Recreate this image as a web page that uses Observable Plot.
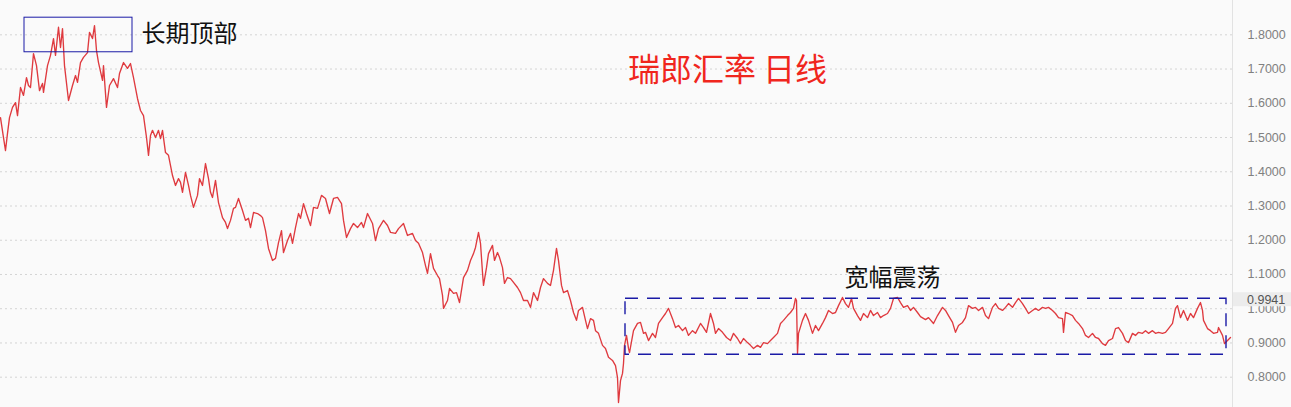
<!DOCTYPE html>
<html>
<head>
<meta charset="utf-8">
<script src="https://cdn.jsdelivr.net/npm/d3@7"></script>
<script src="https://cdn.jsdelivr.net/npm/@observablehq/plot@0.6"></script>
<style>
  html, body { margin: 0; padding: 0; background: #fafafa; }
  #chart svg { display: block; }
</style>
</head>
<body>
<div id="chart"></div>
<script>
// USD/CHF daily close, time index t (trading-time units) and price
const series = [
  [0,1.558],[3,1.500],[5,1.462],[7,1.512],[9,1.558],[12,1.588],[15,1.602],[17,1.564],
  [20,1.646],[23,1.623],[26,1.675],[28,1.652],[30,1.646],[33,1.745],[36,1.710],[39,1.637],
  [42,1.658],[43,1.632],[47,1.710],[50,1.740],[53,1.789],[55,1.740],[58,1.822],[60,1.763],
  [62,1.818],[64,1.710],[68,1.608],[72,1.652],[75,1.681],[77,1.661],[80,1.719],[83,1.734],
  [87,1.748],[89,1.807],[92,1.789],[94,1.827],[96,1.754],[98,1.719],[102,1.667],[103,1.710],
  [106,1.588],[109,1.652],[113,1.672],[117,1.646],[119,1.687],[123,1.719],[127,1.702],[130,1.716],
  [133,1.675],[137,1.614],[140,1.579],[143,1.564],[146,1.500],[148,1.448],[150,1.506],[152,1.521],
  [155,1.500],[158,1.521],[160,1.497],[162,1.521],[165,1.456],[168,1.448],[172,1.389],[175,1.360],
  [178,1.380],[180,1.369],[182,1.340],[185,1.398],[188,1.360],[190,1.331],[193,1.296],[197,1.331],
  [199,1.380],[202,1.360],[205,1.424],[208,1.380],[210,1.340],[212,1.325],[215,1.375],[218,1.310],
  [222,1.266],[225,1.252],[227,1.234],[230,1.258],[233,1.293],[235,1.296],[238,1.322],[242,1.287],
  [245,1.258],[248,1.264],[250,1.237],[253,1.281],[257,1.278],[260,1.272],[262,1.266],[265,1.228],
  [268,1.176],[272,1.141],[275,1.147],[278,1.193],[281,1.228],[283,1.164],[287,1.199],[290,1.220],
  [292,1.191],[295,1.237],[298,1.278],[300,1.264],[303,1.307],[306,1.278],[310,1.243],[313,1.296],
  [317,1.293],[321,1.331],[325,1.322],[329,1.278],[333,1.322],[337,1.325],[341,1.307],[343,1.258],
  [346,1.208],[350,1.234],[353,1.249],[357,1.237],[361,1.252],[363,1.237],[367,1.278],[372,1.249],
  [375,1.199],[378,1.234],[383,1.258],[387,1.243],[390,1.223],[395,1.220],[398,1.234],[403,1.249],
  [407,1.214],[412,1.220],[415,1.199],[418,1.191],[422,1.164],[425,1.126],[427,1.103],[430,1.161],
  [433,1.118],[437,1.097],[439,1.088],[442,1.039],[443,1.001],[447,1.024],[449,1.059],[453,1.045],
  [456,1.047],[459,1.018],[463,1.091],[467,1.112],[470,1.141],[473,1.161],[475,1.179],[478,1.223],
  [480,1.191],[482,1.106],[483,1.068],[486,1.120],[488,1.161],[492,1.185],[494,1.141],[497,1.164],
  [499,1.150],[502,1.120],[504,1.074],[507,1.091],[510,1.088],[513,1.077],[517,1.062],[520,1.047],
  [523,1.024],[527,1.024],[530,1.004],[533,1.047],[537,1.024],[540,1.062],[543,1.088],[547,1.074],
  [550,1.068],[553,1.112],[556,1.176],[558,1.141],[561,1.068],[563,1.047],[567,1.053],[570,1.024],
  [573,0.989],[576,0.966],[578,0.995],[582,1.004],[585,0.966],[587,0.942],[590,0.971],[593,0.966],
  [595,0.936],[598,0.928],[602,0.893],[605,0.884],[608,0.858],[612,0.849],[615,0.834],[617,0.799],
  [618,0.726],[620,0.790],[622,0.811],[623,0.840],[624,0.893],[626,0.922],[628,0.884],[629,0.872],
  [633,0.936],[637,0.957],[640,0.960],[643,0.928],[645,0.931],[648,0.907],[652,0.928],[655,0.916],
  [658,0.957],[662,0.974],[665,0.986],[668,1.001],[672,0.971],[675,0.945],[678,0.951],[682,0.936],
  [685,0.945],[688,0.922],[692,0.936],[695,0.928],[700,0.957],[703,0.945],[706,0.931],[710,0.986],
  [713,0.957],[715,0.928],[718,0.942],[722,0.931],[726,0.916],[730,0.907],[733,0.928],[737,0.913],
  [740,0.898],[743,0.913],[747,0.901],[750,0.893],[753,0.884],[757,0.893],[760,0.887],[763,0.901],
  [767,0.898],[770,0.907],[773,0.916],[777,0.928],[780,0.957],[783,0.966],[787,0.980],[790,0.989],
  [793,1.001],[795,1.030],[796,1.024],[797,0.869],[798,0.928],[802,0.966],[805,0.986],[808,0.966],
  [812,0.928],[815,0.951],[818,0.936],[822,0.957],[825,0.974],[828,0.995],[832,0.986],[835,0.989],
  [838,1.009],[842,1.033],[845,1.015],[848,1.004],[851,1.030],[853,1.001],[857,0.980],[860,0.966],
  [863,0.986],[867,0.974],[870,0.995],[873,0.980],[877,0.989],[880,0.974],[883,0.980],[887,0.986],
  [890,1.001],[893,1.030],[897,1.033],[900,1.018],[903,1.004],[907,1.009],[910,0.995],[913,1.004],
  [917,0.989],[920,0.977],[925,0.968],[928,0.974],[933,0.957],[937,0.980],[942,1.004],[945,0.995],
  [948,0.980],[952,0.960],[955,0.931],[958,0.951],[962,0.960],[965,0.974],[968,1.009],[972,1.001],
  [975,1.004],[978,0.995],[982,1.004],[985,0.980],[988,0.971],[992,1.004],[995,1.015],[998,1.001],
  [1002,0.995],[1005,1.004],[1008,1.015],[1012,1.004],[1015,1.018],[1018,1.030],[1022,1.015],[1025,1.001],
  [1028,0.986],[1032,0.995],[1035,1.001],[1038,0.995],[1042,1.004],[1045,1.001],[1048,1.004],[1052,0.995],
  [1055,0.986],[1058,0.974],[1062,0.971],[1063,0.931],[1065,0.989],[1068,0.986],[1072,0.980],[1075,0.966],
  [1078,0.957],[1082,0.942],[1085,0.922],[1088,0.916],[1092,0.928],[1095,0.916],[1098,0.913],[1102,0.898],
  [1105,0.893],[1108,0.907],[1112,0.913],[1115,0.942],[1118,0.945],[1122,0.928],[1125,0.907],[1128,0.901],
  [1132,0.928],[1135,0.922],[1138,0.931],[1142,0.928],[1145,0.936],[1148,0.928],[1152,0.936],[1155,0.928],
  [1158,0.931],[1162,0.928],[1165,0.931],[1168,0.942],[1172,0.957],[1175,1.001],[1177,1.009],[1180,0.974],
  [1183,0.995],[1187,0.966],[1190,0.986],[1193,0.974],[1197,1.001],[1200,1.018],[1202,0.995],[1203,0.966],
  [1207,0.942],[1210,0.936],[1213,0.928],[1217,0.931],[1218,0.945],[1222,0.922],[1224,0.898],[1227,0.907],
  [1230,0.916]
];

const yTicks = [0.8, 0.9, 1.0, 1.1, 1.2, 1.3, 1.4, 1.5, 1.6, 1.7, 1.8];
const lastPrice = 0.9941;

// annotation boxes (data units: t range, price range)
const topBox = [{t1: 24, t2: 132, v1: 1.749, v2: 1.850}];
const rangeBox = [{t1: 625, t2: 1226, v1: 0.8654, v2: 1.029}];

// annotation texts
const titleNote = [{t: 727, v: 1.696, label: "瑞郎汇率 日线"}];
const topNote = [{t: 141, v: 1.801, label: "长期顶部"}];
const rangeNote = [{t: 892, v: 1.089, label: "宽幅震荡"}];

const plot = Plot.plot({
  width: 1291,
  height: 407,
  marginLeft: 0,
  marginRight: 59,
  marginTop: 0,
  marginBottom: 0,
  x: {domain: [0, 1232], axis: null},
  y: {domain: [0.7115, 1.9002], axis: null},
  style: {background: "#fafafa", fontFamily: "'Liberation Sans', 'Noto Sans CJK SC', sans-serif", overflow: "visible"},
  marks: [
    Plot.gridY(yTicks, {stroke: "#d4d4d4", strokeOpacity: 1, strokeDasharray: "2,3"}),
    Plot.frame({anchor: "right", stroke: "#e2e2e2", strokeOpacity: 1}),
    Plot.axisY(yTicks, {anchor: "right", tickSize: 0, tickPadding: 15, tickFormat: d3.format(".4f"), fontSize: 12.5, color: "#808080"}),
    Plot.line(series, {x: d => d[0], y: d => d[1], stroke: "#df3a3f", strokeWidth: 1.35}),
    Plot.rect(topBox, {x1: "t1", x2: "t2", y1: "v1", y2: "v2", fill: "none", stroke: "#1a1aa6", strokeWidth: 1}),
    Plot.rect(rangeBox, {x1: "t1", x2: "t2", y1: "v1", y2: "v2", fill: "none", stroke: "#1a1aa6", strokeWidth: 1.4, strokeDasharray: "13,9"}),
    Plot.text(titleNote, {x: "t", y: "v", text: "label", fill: "#f0261d", fontSize: 32, fontFamily: "'Noto Sans CJK SC', sans-serif"}),
    Plot.text(topNote, {x: "t", y: "v", text: "label", textAnchor: "start", fill: "#111", fontSize: 24, fontFamily: "'Noto Sans CJK SC', sans-serif"}),
    Plot.text(rangeNote, {x: "t", y: "v", text: "label", fill: "#111", fontSize: 24, fontFamily: "'Noto Sans CJK SC', sans-serif"})
  ]
});

// current-price label on the right price axis (covers the upper half of the 1.0000 tick label, as in the source)
const svg = d3.select(plot);
const yPos = plot.scale("y").apply(lastPrice);
const xPos = plot.scale("x").apply(1232);
const g = svg.append("g");
g.append("rect")
  .attr("x", xPos + 1).attr("y", yPos - 18).attr("width", 1291 - xPos).attr("height", 14)
  .attr("fill", "#ececec");
g.append("text")
  .attr("x", xPos + 15).attr("y", yPos - 10.5)
  .attr("dy", "0.35em")
  .attr("text-anchor", "start")
  .attr("font-size", 12.5)
  .attr("fill", "#555")
  .text(d3.format(".4f")(lastPrice));

document.getElementById("chart").appendChild(plot);
</script>
</body>
</html>
